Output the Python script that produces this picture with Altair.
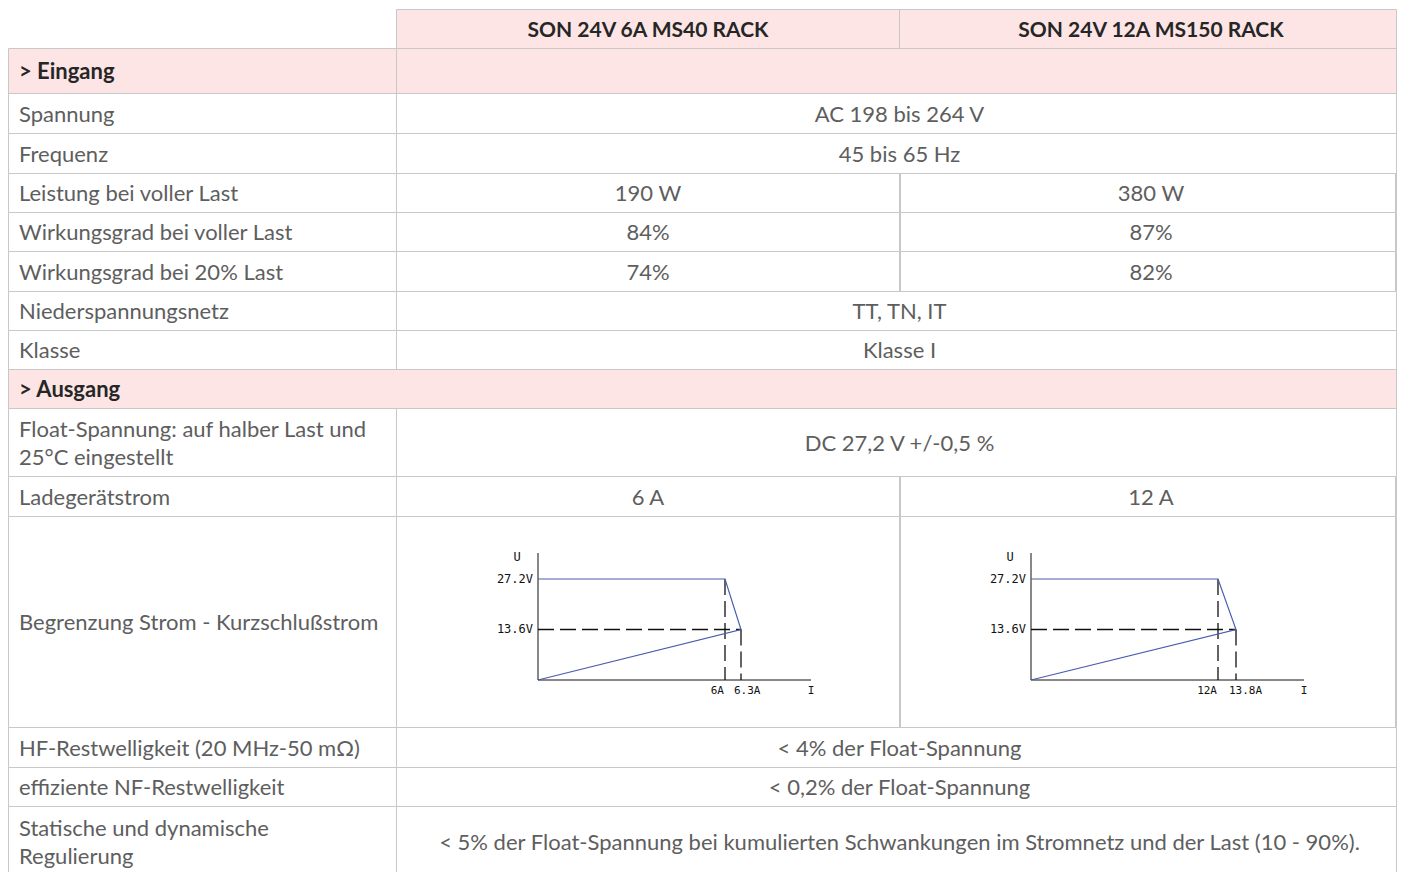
import altair as alt
import pandas as pd

# ---------------- data ----------------
models = ["SON 24V 6A MS40 RACK", "SON 24V 12A MS150 RACK"]

row_labels = [
    "> Eingang",
    "Spannung",
    "Frequenz",
    "Leistung bei voller Last",
    "Wirkungsgrad bei voller Last",
    "Wirkungsgrad bei 20% Last",
    "Niederspannungsnetz",
    "Klasse",
    "> Ausgang",
    "Float-Spannung: auf halber Last und\n25°C eingestellt",
    "Ladegerätstrom",
    "Begrenzung Strom - Kurzschlußstrom",
    "HF-Restwelligkeit (20 MHz-50 mΩ)",
    "effiziente NF-Restwelligkeit",
    "Statische und dynamische\nRegulierung",
]
row_kinds = ["section", "span", "span", "split", "split", "split", "span", "span",
             "section_full", "span", "split", "chart", "span", "span", "span"]
values_a = ["", "AC 198 bis 264 V", "45 bis 65 Hz", "190 W", "84%", "74%", "TT, TN, IT",
            "Klasse I", "", "DC 27,2 V +/-0,5 %", "6 A", "", "< 4% der Float-Spannung",
            "< 0,2% der Float-Spannung",
            "< 5% der Float-Spannung bei kumulierten Schwankungen im Stromnetz und der Last (10 - 90%)."]
values_b = ["", "", "", "380 W", "87%", "82%", "", "", "", "", "12 A", "", "", "", ""]

# current-limit curves (U over I)
curve_i_nominal = [6, 12]
curve_i_short = [6.3, 13.8]
curve_i_axis_end = [8.0, 16.0]
curve_u_float = 27.2
curve_u_limit = 13.6
curve_u_axis_top = 34.2
curve_i_labels = [["6A", "6.3A"], ["12A", "13.8A"]]
curve_u_labels = ["27.2V", "13.6V"]

# ---------------- layout / style ----------------
W, H = 1389, 864
ORIGIN = 8
COL_EDGES = [8, 396, 899, 1402]      # used for text centring
RIGHT_BORDER = 1396                  # drawable right edge inside the page
ROW_EDGES = [9, 48, 93, 133, 173, 212, 251, 291, 330, 369, 408, 476, 516, 727, 767, 806, 876]
LINE_H = 28
LABEL_X = 19
TEXT_DY = 1.5
HEAD_DY = 2
PINK = "#fde5e5"
WHITE = "#ffffff"
GRID = "#c8c8c8"
TXT = "#5e5e5e"
BOLD_TXT = "#262626"
BLUE = "#4a5cae"
FONT = "Lato"
FS = 22
FS_HEAD = 21
FS_SECTION = 22
MINI_X_PX = [[538, 725, 741, 811], [1031, 1218, 1236, 1304]]
MINI_Y_PX = [680, 553]
MINI_FONT = "DejaVu Sans Mono"
MINI_FS = 12

XS = alt.Scale(domain=[ORIGIN, ORIGIN + W], range=[0, W], nice=False, zero=False)
YS = alt.Scale(domain=[ORIGIN, ORIGIN + H], range=[0, H], nice=False, zero=False)


def X(f):
    return alt.X(f, type="quantitative", scale=XS, axis=None)


def Y(f):
    return alt.Y(f, type="quantitative", scale=YS, axis=None)


# ---------------- table cells ----------------
cells = []
extra = []


def add_cell(x0, x1, y0, y1, fill):
    cells.append(dict(x=x0 + 0.5, x2=x1 + 0.5, y=y0 + 0.5, y2=y1 + 0.5, fill=fill))


c0, c1, c2, c3 = COL_EDGES
cr = RIGHT_BORDER
add_cell(c1, c2, ROW_EDGES[0], ROW_EDGES[1], PINK)
add_cell(c2, cr, ROW_EDGES[0], ROW_EDGES[1], PINK)
for i, kind in enumerate(row_kinds):
    y0, y1 = ROW_EDGES[i + 1], ROW_EDGES[i + 2]
    if i == len(row_kinds) - 1:
        y1 = y1 + 20  # last row continues below the window edge
    if kind == "section_full":
        add_cell(c0, cr, y0, y1, PINK)
    elif kind == "section":
        add_cell(c0, c1, y0, y1, PINK)
        add_cell(c1, cr, y0, y1, PINK)
    elif kind == "span":
        add_cell(c0, c1, y0, y1, WHITE)
        add_cell(c1, cr, y0, y1, WHITE)
    else:
        add_cell(c0, c1, y0, y1, WHITE)
        add_cell(c1, c2, y0, y1, WHITE)
        add_cell(c2, cr, y0, y1, WHITE)
        extra.append(dict(x=c2 + 1.5, y=y0 + 1, y2=y1))
        extra.append(dict(x=cr - 0.5, y=y0 + 1, y2=y1))
cells_df = pd.DataFrame(cells)

fills = alt.Chart(cells_df).mark_rect(strokeWidth=0).encode(
    x=X("x"), x2="x2", y=Y("y"), y2="y2", fill=alt.Fill("fill:N", scale=None))
borders = alt.Chart(cells_df).mark_rect(fillOpacity=0, stroke=GRID, strokeWidth=1).encode(
    x=X("x"), x2="x2", y=Y("y"), y2="y2")
extra_lines = alt.Chart(pd.DataFrame(extra)).mark_rule(color=GRID, strokeWidth=1).encode(
    x=X("x"), y=Y("y"), y2="y2")

# ---------------- texts ----------------
label_rows, section_rows, value_rows = [], [], []
for i, (lab, kind) in enumerate(zip(row_labels, row_kinds)):
    y0, y1 = ROW_EDGES[i + 1], ROW_EDGES[i + 2]
    cy = (y0 + y1) / 2 + TEXT_DY
    lines = lab.split("\n")
    n = len(lines)
    for j, ln in enumerate(lines):
        rec = dict(t=ln, x=LABEL_X, y=cy + (j - (n - 1) / 2) * LINE_H)
        (section_rows if kind.startswith("section") else label_rows).append(rec)
    if kind == "span":
        value_rows.append(dict(t=values_a[i], x=(c1 + c3) / 2 + 0.5, y=cy))
    elif kind == "split":
        value_rows.append(dict(t=values_a[i], x=(c1 + c2) / 2 + 0.5, y=cy))
        value_rows.append(dict(t=values_b[i], x=(c2 + c3) / 2 + 0.5, y=cy))

header_df = pd.DataFrame(dict(t=models, x=[(c1 + c2) / 2 + 0.5, (c2 + c3) / 2 + 0.5],
                              y=[(ROW_EDGES[0] + ROW_EDGES[1]) / 2 + HEAD_DY] * 2))

labels = alt.Chart(pd.DataFrame(label_rows)).mark_text(
    align="left", baseline="middle", font=FONT, fontSize=FS, color=TXT).encode(
    x=X("x"), y=Y("y"), text="t:N")
sections = alt.Chart(pd.DataFrame(section_rows)).mark_text(
    align="left", baseline="middle", font=FONT, fontSize=FS_SECTION, fontWeight="bold",
    color=BOLD_TXT).encode(x=X("x"), y=Y("y"), text="t:N")
values = alt.Chart(pd.DataFrame(value_rows)).mark_text(
    align="center", baseline="middle", font=FONT, fontSize=FS, color=TXT).encode(
    x=X("x"), y=Y("y"), text="t:N")
header = alt.Chart(header_df).mark_text(
    align="center", baseline="middle", font=FONT, fontSize=FS_HEAD, fontWeight="bold",
    color=BOLD_TXT).encode(x=X("x"), y=Y("y"), text="t:N")

# ---------------- mini charts ----------------
mini = []
for k in range(2):
    i_nom, i_sc, i_end = curve_i_nominal[k], curve_i_short[k], curve_i_axis_end[k]
    xs = alt.Scale(domain=[0, i_nom, i_sc, i_end], range=[p - ORIGIN for p in MINI_X_PX[k]],
                   nice=False, zero=False)
    ys = alt.Scale(domain=[0, curve_u_axis_top], range=[p - ORIGIN for p in MINI_Y_PX],
                   nice=False, zero=False)
    mx = alt.X("i:Q", scale=xs, axis=None)
    my = alt.Y("u:Q", scale=ys, axis=None)

    axes_df = pd.DataFrame(dict(i=[0, 0], u=[0, 0], i2=[0, i_end], u2=[curve_u_axis_top, 0]))
    mini.append(alt.Chart(axes_df).mark_rule(color="#111111", strokeWidth=1).encode(
        x=mx, x2="i2:Q", y=my, y2="u2:Q"))

    dash_df = pd.DataFrame(dict(i=[0, i_nom, i_sc], u=[curve_u_limit, curve_u_float, curve_u_limit],
                                i2=[i_sc, i_nom, i_sc], u2=[curve_u_limit, 0, 0]))
    mini.append(alt.Chart(dash_df).mark_rule(color="#111111", strokeWidth=1.3,
                                             strokeDash=[16, 6]).encode(
        x=mx, x2="i2:Q", y=my, y2="u2:Q"))

    curve_df = pd.DataFrame(dict(i=[0, i_nom, i_sc, 0],
                                 u=[curve_u_float, curve_u_float, curve_u_limit, 0],
                                 o=[0, 1, 2, 3]))
    mini.append(alt.Chart(curve_df).mark_line(color=BLUE, strokeWidth=1.2).encode(
        x=mx, y=my, order="o:Q"))

    ulab_df = pd.DataFrame(dict(i=[0, 0], u=[curve_u_float, curve_u_limit], t=curve_u_labels))
    mini.append(alt.Chart(ulab_df).mark_text(align="right", baseline="middle", dx=-5,
                                             font=MINI_FONT, fontSize=MINI_FS,
                                             color="#111111").encode(
        x=mx, y=my, text="t:N"))
    u_df = pd.DataFrame(dict(i=[0], u=[curve_u_axis_top], t=["U"]))
    mini.append(alt.Chart(u_df).mark_text(align="center", baseline="middle", dx=-21, dy=4,
                                          font=MINI_FONT, fontSize=MINI_FS,
                                          color="#111111").encode(
        x=mx, y=my, text="t:N"))
    inom_df = pd.DataFrame(dict(i=[i_nom], u=[0], t=[curve_i_labels[k][0]]))
    mini.append(alt.Chart(inom_df).mark_text(align="right", baseline="middle", dx=-1, dy=11,
                                             font=MINI_FONT, fontSize=MINI_FS - 1,
                                             color="#111111").encode(
        x=mx, y=my, text="t:N"))
    isc_df = pd.DataFrame(dict(i=[i_sc], u=[0], t=[curve_i_labels[k][1]]))
    mini.append(alt.Chart(isc_df).mark_text(align="left", baseline="middle", dx=-7, dy=11,
                                            font=MINI_FONT, fontSize=MINI_FS - 1,
                                            color="#111111").encode(
        x=mx, y=my, text="t:N"))
    iend_df = pd.DataFrame(dict(i=[i_end], u=[0], t=["I"]))
    mini.append(alt.Chart(iend_df).mark_text(align="center", baseline="middle", dy=11,
                                             font=MINI_FONT, fontSize=MINI_FS - 1,
                                             color="#111111").encode(
        x=mx, y=my, text="t:N"))

chart = alt.layer(fills, borders, extra_lines, labels, sections, values, header, *mini).resolve_scale(
    x="independent", y="independent"
).properties(
    width=W, height=H, padding=0, autosize=alt.AutoSizeParams(type="none"),
    background="white"
).configure_view(stroke=None)

chart.save("out.html", embed_options={"renderer": "svg", "actions": False})
